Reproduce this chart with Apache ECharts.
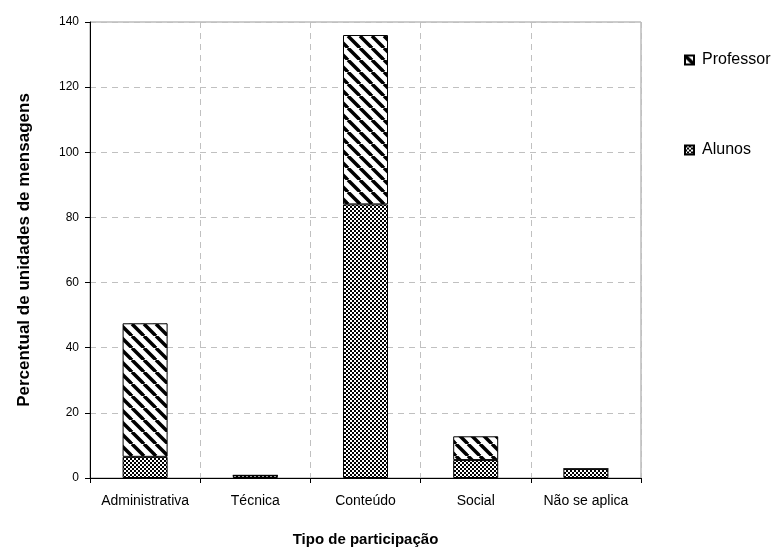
<!DOCTYPE html>
<html>
<head>
<meta charset="utf-8">
<script src="https://cdn.jsdelivr.net/npm/echarts@6/dist/echarts.min.js"></script>
<style>html,body{margin:0;padding:0;background:#fff}#c{width:784px;height:547px}</style>
</head>
<body>
<div id="c"></div>
<script>
const categories = ['Administrativa', 'Técnica', 'Conteúdo', 'Social', 'Não se aplica'];
const alunos = [6.5, 0.8, 84, 5.5, 2.8];
const professor = [41, 0, 52, 7.3, 0];
const yTicks = [0, 20, 40, 60, 80, 100, 120, 140];

function hatchPattern() {
  const s = 12;
  const c = document.createElement('canvas');
  c.width = s; c.height = s;
  const g = c.getContext('2d');
  g.fillStyle = '#fff'; g.fillRect(0, 0, s, s);
  g.strokeStyle = '#000'; g.lineWidth = 3.5;
  for (const o of [-s, 0, s]) {
    g.beginPath(); g.moveTo(o, 0); g.lineTo(o + s, s); g.stroke();
  }
  return c;
}
function checkerPattern() {
  const c = document.createElement('canvas');
  c.width = 4; c.height = 4;
  const g = c.getContext('2d');
  g.fillStyle = '#fff'; g.fillRect(0, 0, 4, 4);
  g.fillStyle = '#000';
  g.fillRect(0, 0, 2, 2); g.fillRect(2, 2, 2, 2);
  return c;
}
const hatch = { image: hatchPattern(), repeat: 'repeat' };
const checker = { image: checkerPattern(), repeat: 'repeat' };
const FONT = 'Liberation Sans, Arial, sans-serif';

const chart = echarts.init(document.getElementById('c'));
chart.setOption({
  animation: false,
  textStyle: { fontFamily: FONT },
  grid: { left: 90, right: 143, top: 22, bottom: 69, show: true, borderColor: '#999', borderWidth: 1,
          outerBoundsMode: 'none', containLabel: false },
  legend: {
    orient: 'vertical', left: 679, top: 47, itemGap: 74,
    itemWidth: 9, itemHeight: 9,
    data: ['Professor', 'Alunos'],
    textStyle: { fontSize: 16, color: '#000', fontFamily: FONT, padding: [0, 0, 0, 3] },
    icon: 'rect'
  },
  xAxis: {
    type: 'category', data: categories,
    name: 'Tipo de participação', nameLocation: 'middle', nameGap: 54,
    nameTextStyle: { fontWeight: 'bold', fontSize: 15, color: '#000' },
    axisLine: { lineStyle: { color: '#000', width: 1 } },
    axisTick: { show: true, length: 5, interval: 0, lineStyle: { color: '#000' } },
    axisLabel: { color: '#000', fontSize: 14, margin: 16, interval: 0, hideOverlap: false },
    splitLine: { show: true, interval: 0, lineStyle: { color: '#c0c0c0', type: [6, 5] } }
  },
  yAxis: {
    type: 'value', min: 0, max: 140, interval: 20,
    name: 'Percentual de unidades de mensagens', nameLocation: 'middle', nameGap: 57,
    nameTextStyle: { fontWeight: 'bold', fontSize: 17, color: '#000' },
    axisLine: { show: true, lineStyle: { color: '#000', width: 1 } },
    axisTick: { show: true, length: 5, lineStyle: { color: '#000' } },
    axisLabel: { color: '#000', fontSize: 12, margin: 11,
      formatter: v => yTicks.includes(v) ? String(v) : '' },
    splitLine: { show: true, lineStyle: { color: '#c0c0c0', type: [6, 5] } }
  },
  series: [
    { name: 'Alunos', type: 'bar', stack: 'a', data: alunos, barWidth: 45,
      itemStyle: { color: checker, borderColor: '#000', borderWidth: 1 } },
    { name: 'Professor', type: 'bar', stack: 'a', data: professor, barWidth: 45,
      itemStyle: { color: hatch, borderColor: '#000', borderWidth: 1 } }
  ]
});
</script>
</body>
</html>
